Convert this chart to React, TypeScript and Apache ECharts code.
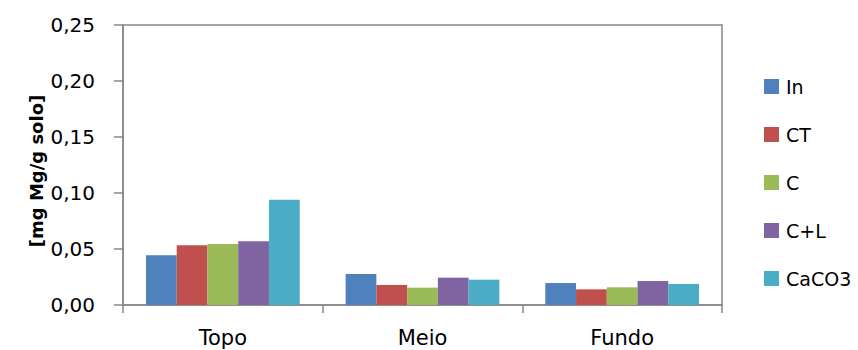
import React, { useEffect, useRef } from "react";
import * as echarts from "echarts";

// Sampling depths along the x axis
const categories = ["Topo", "Meio", "Fundo"];

// Treatments (legend entries) and their colours
const seriesNames = ["In", "CT", "C", "C+L", "CaCO3"];
const seriesColors = ["#4F81BD", "#C0504D", "#9BBB59", "#8064A2", "#4BACC6"];

// Mg content per treatment [mg Mg/g solo], one value per depth
const valuesIn = [0.0444, 0.0277, 0.0196];
const valuesCT = [0.0533, 0.0179, 0.014];
const valuesC = [0.0545, 0.0155, 0.0158];
const valuesCL = [0.0569, 0.0244, 0.0214];
const valuesCaCO3 = [0.094, 0.0226, 0.0188];

const seriesValues = [valuesIn, valuesCT, valuesC, valuesCL, valuesCaCO3];

// y axis scale
const yMin = 0;
const yMax = 0.25;
const yStep = 0.05;

const axisTitle = "[mg Mg/g solo]";

const FONT = "DejaVu Sans";
const AXIS_GRAY = "#878787";

export default function App() {
  const ref = useRef<HTMLDivElement>(null);

  useEffect(() => {
    if (!ref.current) return;
    const chart = echarts.init(ref.current, undefined, { renderer: "svg" });

    const series = seriesNames.map((name, i) => ({
      name,
      type: "bar" as const,
      data: seriesValues[i],
      barGap: "0%",
      barCategoryGap: "23%",
      itemStyle: { color: seriesColors[i] },
    }));

    chart.setOption({
      animation: false,
      backgroundColor: "#ffffff",
      grid: {
        left: 123,
        right: 136,
        top: 25,
        bottom: 45,
        show: true,
        borderColor: AXIS_GRAY,
        borderWidth: 1.5,
        backgroundColor: "transparent",
      },
      legend: {
        orient: "vertical",
        left: 764,
        top: 77,
        padding: 0,
        itemWidth: 15,
        itemHeight: 15,
        itemGap: 29,
        icon: "rect",
        textStyle: {
          fontFamily: FONT,
          fontSize: 19,
          color: "#000",
          padding: [0, 0, 0, 2],
        },
        data: seriesNames,
      },
      xAxis: {
        type: "category",
        data: categories,
        axisLine: { lineStyle: { color: AXIS_GRAY, width: 1.5 } },
        axisTick: {
          show: true,
          length: 8,
          lineStyle: { color: AXIS_GRAY, width: 1.5 },
        },
        axisLabel: {
          fontFamily: FONT,
          fontSize: 21,
          color: "#000",
          margin: 22,
        },
      },
      yAxis: {
        type: "value",
        min: yMin,
        max: yMax,
        interval: yStep,
        axisLine: { show: true, lineStyle: { color: AXIS_GRAY, width: 1.5 } },
        axisTick: {
          show: true,
          length: 9,
          lineStyle: { color: AXIS_GRAY, width: 1.5 },
        },
        splitLine: { show: false },
        axisLabel: {
          fontFamily: FONT,
          fontSize: 20,
          color: "#000",
          margin: 28,
          formatter: (v: number) => v.toFixed(2).replace(".", ","),
        },
      },
      graphic: [
        {
          type: "text",
          x: 36,
          y: 171,
          rotation: Math.PI / 2,
          style: {
            text: axisTitle,
            fontFamily: FONT,
            fontSize: 18,
            fontWeight: "bold",
            fill: "#000",
            textAlign: "center",
            textVerticalAlign: "middle",
          },
        },
      ],
      series,
    });

    return () => chart.dispose();
  }, []);

  return (
    <div
      ref={ref}
      style={{ position: "fixed", left: 0, top: 0, width: 858, height: 350 }}
    />
  );
}
